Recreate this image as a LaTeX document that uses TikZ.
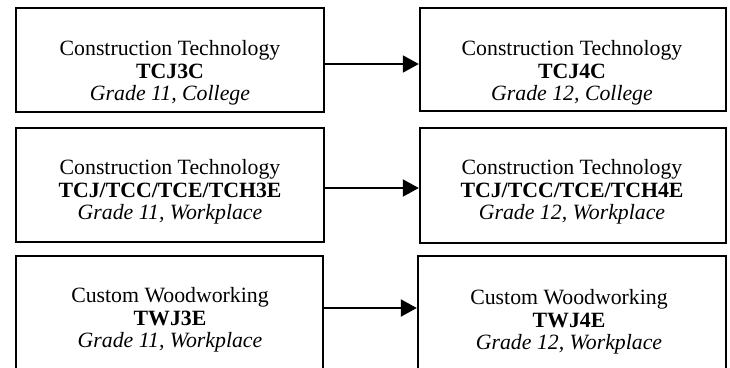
\documentclass[tikz,border=0pt]{standalone}
\usepackage{fontspec}
\setmainfont{Liberation Serif}
\usetikzlibrary{arrows.meta}
\begin{document}
\begin{tikzpicture}[x=1pt,y=-1pt,
  box/.style={draw=black,line width=2.4pt,inner sep=0pt,minimum width=#1},
  label/.style={align=center,inner sep=0pt,font=\fontsize{21.8}{22.3}\selectfont},
  conn/.style={line width=2pt,-{Triangle[length=16pt,width=17pt]}}]
\useasboundingbox (0,0) rectangle (730,367);
\clip (0,0) rectangle (730,367);
% boxes
\node[box=308pt,minimum height=104pt] (b1) at (170,60) {};
\node[box=306pt,minimum height=103pt] (b2) at (573,59.5) {};
\node[box=308pt,minimum height=114pt] (b3) at (170,185) {};
\node[box=306pt,minimum height=115pt] (b4) at (573,185.5) {};
\node[box=307pt,minimum height=128pt] (b5) at (169.5,320) {};
\node[box=308pt,minimum height=128pt] (b6) at (572,320) {};
% texts
\node[label] (t1) at (170,73) {Construction Technology\\\textbf{TCJ3C}\\\textit{Grade 11, College}};
\node[label] (t2) at (572,73) {Construction Technology\\\textbf{TCJ4C}\\\textit{Grade 12, College}};
\node[label] (t3) at (170,192) {Construction Technology\\\textbf{TCJ/TCC/TCE/TCH3E}\\\textit{Grade 11, Workplace}};
\node[label] (t4) at (572,192) {Construction Technology\\\textbf{TCJ/TCC/TCE/TCH4E}\\\textit{Grade 12, Workplace}};
\node[label] (t5) at (170,320) {Custom Woodworking\\\textbf{TWJ3E}\\\textit{Grade 11, Workplace}};
\node[label] (t6) at (569,322) {Custom Woodworking\\\textbf{TWJ4E}\\\textit{Grade 12, Workplace}};
% connectors
\coordinate (r1) at (0,64);
\coordinate (r2) at (0,188);
\coordinate (r3) at (0,308);
\draw[conn] (b1.east |- r1) -- (b2.west |- r1);
\draw[conn] (b3.east |- r2) -- (b4.west |- r2);
\draw[conn] (b5.east |- r3) -- (b6.west |- r3);
\end{tikzpicture}
\end{document}
